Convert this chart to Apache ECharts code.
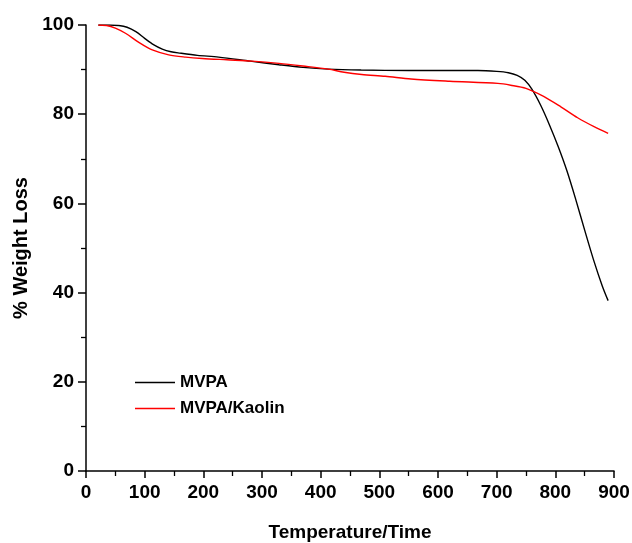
<!DOCTYPE html>
<html>
<head>
<meta charset="utf-8">
<script src="https://cdn.jsdelivr.net/npm/echarts@6/dist/echarts.min.js"></script>
<style>html,body{margin:0;padding:0;background:#fff}#c{width:632px;height:543px}</style>
</head>
<body>
<div id="c"></div>
<script>
const seriesNames = ['MVPA', 'MVPA/Kaolin'];
const xTicks = [0, 100, 200, 300, 400, 500, 600, 700, 800, 900];
const yTicks = [0, 20, 40, 60, 80, 100];
const mvpa = [[21,100],[40,100],[56,99.9],[70,99.5],[85,98.5],[100,97.0],[115,95.6],[130,94.6],[145,94.0],[160,93.7],[190,93.2],[226,92.8],[280,91.9],[329,91.1],[370,90.5],[413,90.1],[469,89.9],[550,89.8],[668,89.8],[700,89.6],[720,89.3],[735,88.7],[748,87.6],[760,85.6],[775,82.0],[790,77.6],[805,72.7],[820,67.2],[835,60.8],[850,54.0],[865,47.4],[880,41.5],[890,38.2]];
const kaolin = [[21,100],[35,99.9],[50,99.3],[68,98.1],[90,96.1],[113,94.4],[141,93.3],[170,92.8],[198,92.5],[240,92.2],[283,91.9],[329,91.4],[370,90.8],[413,90.1],[440,89.4],[470,88.9],[510,88.5],[554,87.9],[620,87.4],[702,86.9],[724,86.5],[750,85.8],[780,84.0],[810,81.6],[838,79.2],[866,77.2],[890,75.7]];

const FONT = "'Liberation Sans',Arial,sans-serif";
const chart = echarts.init(document.getElementById('c'), null, {renderer: 'canvas'});
chart.setOption({
  animation: false,
  backgroundColor: '#fff',
  grid: {left: 86, right: 18, top: 25, bottom: 72, containLabel: false, outerBoundsMode: 'none'},
  legend: {
    orient: 'vertical', left: 130, top: 369, itemWidth: 40, itemHeight: 1.4, itemGap: 9,
    icon: 'rect',
    data: seriesNames,
    textStyle: {fontFamily: FONT, fontSize: 17, fontWeight: 'bold', color: '#000'}
  },
  xAxis: {
    type: 'value', min: 0, max: 900, interval: 100,
    name: 'Temperature/Time', nameLocation: 'middle', nameGap: 52,
    nameTextStyle: {fontFamily: FONT, fontSize: 19, fontWeight: 'bold', color: '#000'},
    axisLine: {show: true, onZero: false, lineStyle: {color: '#000', width: 1.5}},
    axisTick: {show: true, inside: false, length: 7, lineStyle: {color: '#000', width: 1.5}},
    minorTick: {show: true, splitNumber: 2, length: 5, lineStyle: {color: '#000', width: 1.3}},
    splitLine: {show: false},
    axisLabel: {margin: 12, fontFamily: FONT, fontSize: 19, fontWeight: 'bold', color: '#000',
      formatter: v => xTicks.includes(v) ? String(v) : ''}
  },
  yAxis: {
    type: 'value', min: 0, max: 100, interval: 20,
    name: '% Weight Loss', nameLocation: 'middle', nameGap: 50, nameRotate: 90,
    nameTextStyle: {fontFamily: FONT, fontSize: 20, fontWeight: 'bold', color: '#000'},
    axisLine: {show: true, onZero: false, lineStyle: {color: '#000', width: 1.5}},
    axisTick: {show: true, inside: false, length: 8, lineStyle: {color: '#000', width: 1.5}},
    minorTick: {show: true, splitNumber: 2, length: 5, lineStyle: {color: '#000', width: 1.3}},
    splitLine: {show: false},
    axisLabel: {margin: 12, fontFamily: FONT, fontSize: 19, fontWeight: 'bold', color: '#000',
      formatter: v => yTicks.includes(v) ? String(v) : ''}
  },
  series: [
    {name: seriesNames[0], type: 'line', data: mvpa, smooth: 0.3, symbol: 'none',
      lineStyle: {color: '#000', width: 1.4}, itemStyle: {color: '#000'}},
    {name: seriesNames[1], type: 'line', data: kaolin, smooth: 0.3, symbol: 'none',
      lineStyle: {color: '#ff0000', width: 1.4}, itemStyle: {color: '#ff0000'}}
  ]
});
</script>
</body>
</html>
